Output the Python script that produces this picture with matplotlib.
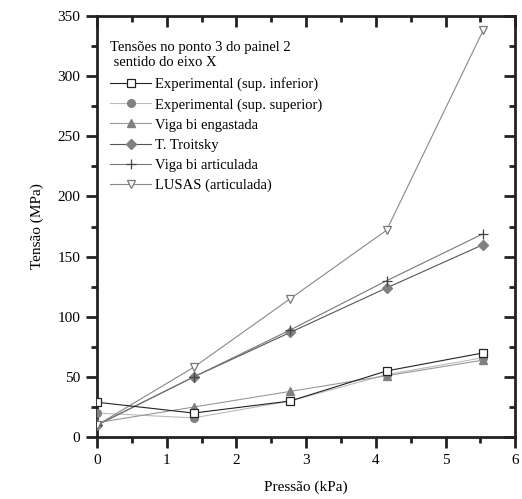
import matplotlib
matplotlib.use("Agg")
import matplotlib.pyplot as plt
from matplotlib.ticker import MultipleLocator

plt.rcParams['font.family'] = ['Liberation Serif', 'DejaVu Serif']

pressao = [0, 1.385, 2.77, 4.155, 5.54]
exp_inf = [29, 20, 30, 55, 70]
exp_sup = [20, 16, 30, 52, 66]
viga_eng = [12, 25, 38, 51, 64]
troitsky = [10, 50, 87, 124, 160]
viga_art = [10, 50, 89, 130, 169]
lusas = [10, 58, 115, 172, 338]

labels = ["Experimental (sup. inferior)", "Experimental (sup. superior)",
          "Viga bi engastada", "T. Troitsky", "Viga bi articulada",
          "LUSAS (articulada)"]

fig = plt.figure(figsize=(5.22, 4.99), dpi=100)
ax = fig.add_axes([0.186, 0.124, 0.801, 0.844])

ax.plot(pressao, exp_inf, color='#222222', lw=0.8, marker='s', ms=5.5,
        mfc='white', mec='#222222', mew=0.9, label=labels[0], zorder=6)
ax.plot(pressao, exp_sup, color='#bbbbbb', lw=0.8, marker='o', ms=5.5,
        mfc='#808080', mec='#808080', label=labels[1], zorder=4)
ax.plot(pressao, viga_eng, color='#999999', lw=0.8, marker='^', ms=6,
        mfc='#808080', mec='#808080', label=labels[2], zorder=5)
ax.plot(pressao, troitsky, color='#555555', lw=0.8, marker='D', ms=5,
        mfc='#808080', mec='#808080', label=labels[3], zorder=4)
ax.plot(pressao, viga_art, color='#777777', lw=0.8, marker='+', ms=7,
        mfc='#444444', mec='#444444', mew=0.9, label=labels[4], zorder=5)
ax.plot(pressao, lusas, color='#888888', lw=0.8, marker='v', ms=6,
        mfc='white', mec='#777777', mew=0.9, label=labels[5], zorder=5)

ax.set_xlim(0, 6)
ax.set_ylim(0, 350)
ax.xaxis.set_major_locator(MultipleLocator(1))
ax.xaxis.set_minor_locator(MultipleLocator(0.5))
ax.yaxis.set_major_locator(MultipleLocator(50))
ax.yaxis.set_minor_locator(MultipleLocator(25))

for s in ax.spines.values():
    s.set_linewidth(2.0)
    s.set_color('#222222')

ax.tick_params(axis='both', which='major', direction='out', length=8, width=2,
               labelsize=11, color='#222222', pad=4)
ax.tick_params(axis='both', which='minor', direction='out', length=4, width=2,
               color='#222222')
ax.tick_params(top=True, right=True, which='both')
# top/right ticks inward
for t in ax.xaxis.get_major_ticks() + ax.xaxis.get_minor_ticks():
    t.tick2line.set_marker(matplotlib.lines.TICKDOWN)
for t in ax.yaxis.get_major_ticks() + ax.yaxis.get_minor_ticks():
    t.tick2line.set_marker(matplotlib.lines.TICKLEFT)

ax.set_xlabel("Pressão (kPa)", fontsize=11, labelpad=10)
ax.set_ylabel("Tensão (MPa)", fontsize=11, labelpad=10)

leg = ax.legend(loc='upper left', frameon=False, fontsize=10.5,
                title="Tensões no ponto 3 do painel 2\n sentido do eixo X",
                title_fontsize=10.5, handlelength=2.8, handletextpad=0.3,
                labelspacing=0.47, borderaxespad=0.5,
                bbox_to_anchor=(0.0, 0.972))
leg._legend_box.align = "left"
leg._legend_box.sep = 6

fig.savefig("out.png", dpi=100)
